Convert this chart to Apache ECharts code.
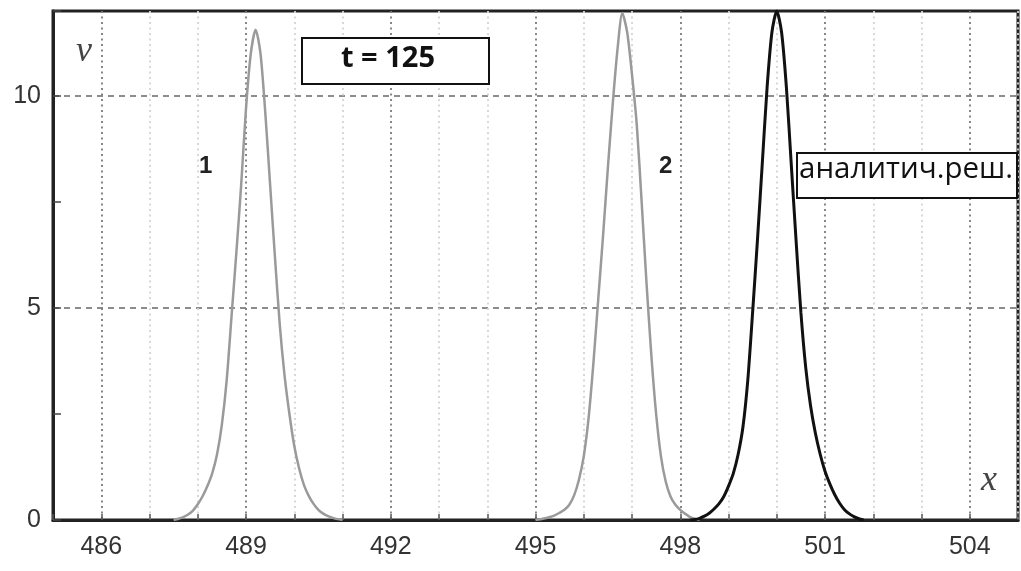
<!DOCTYPE html>
<html>
<head>
<meta charset="utf-8">
<script src="https://cdn.jsdelivr.net/npm/echarts@6/dist/echarts.min.js"></script>
<style>
  html, body { margin: 0; padding: 0; background: #fff; }
  #chart { width: 1021px; height: 571px; }
</style>
</head>
<body>
<div id="chart"></div>
<script>
// axis tick labels
var xTicks = [486, 489, 492, 495, 498, 501, 504];
var yTicks = [0, 5, 10];

// curve 1 (numerical)
var curve1X = [487.5, 487.6, 487.7, 487.8, 487.9, 488.0, 488.1, 488.2, 488.3, 488.4, 488.5, 488.6, 488.7, 488.8, 488.9, 489.0, 489.1, 489.2,
               489.3, 489.4, 489.5, 489.6, 489.7, 489.8, 489.9, 490.0, 490.1, 490.2, 490.3, 490.4, 490.5, 490.6, 490.7, 490.8, 490.9, 491.0];
var curve1V = [0, 0.03, 0.07, 0.13, 0.22, 0.37, 0.56, 0.8, 1.1, 1.55, 2.25, 3.3, 4.8, 6.3, 7.9, 9.7, 11.0, 11.56,
               11.0, 9.6, 7.9, 6.2, 4.6, 3.4, 2.5, 1.75, 1.22, 0.83, 0.57, 0.38, 0.24, 0.15, 0.09, 0.05, 0.02, 0];

// curve 2 (numerical)
var curve2X = [495.0, 495.1, 495.2, 495.3, 495.4, 495.5, 495.6, 495.7, 495.8, 495.9, 496.0, 496.1, 496.2, 496.3, 496.4, 496.5, 496.6, 496.7, 496.8,
               496.9, 497.0, 497.1, 497.2, 497.3, 497.4, 497.5, 497.6, 497.7, 497.8, 497.9, 498.0, 498.1, 498.2, 498.3, 498.4];
var curve2V = [0, 0.02, 0.04, 0.07, 0.11, 0.17, 0.24, 0.36, 0.58, 0.95, 1.5, 2.4, 3.7, 5.2, 6.7, 8.3, 9.8, 11.1, 11.95,
               11.5, 10.5, 9.3, 7.5, 5.6, 3.9, 2.5, 1.5, 0.9, 0.55, 0.36, 0.24, 0.15, 0.07, 0.03, 0];

// analytic solution
var exactX = [498.2, 498.3, 498.4, 498.5, 498.6, 498.7, 498.8, 498.9, 499.0, 499.1, 499.2, 499.3, 499.4, 499.5, 499.6, 499.7, 499.8, 499.9, 500.0,
              500.1, 500.2, 500.3, 500.4, 500.5, 500.6, 500.7, 500.8, 500.9, 501.0, 501.1, 501.2, 501.3, 501.4, 501.5, 501.6, 501.7, 501.8];
var exactV = [0, 0.01, 0.04, 0.09, 0.16, 0.26, 0.38, 0.55, 0.8, 1.1, 1.55, 2.2, 3.3, 4.9, 6.6, 8.4, 10.2, 11.5, 12.0,
              11.5, 10.2, 8.4, 6.6, 4.9, 3.6, 2.7, 2.05, 1.55, 1.15, 0.85, 0.6, 0.4, 0.25, 0.15, 0.08, 0.03, 0];

function pairs(xs, vs) {
  return xs.map(function (x, i) { return [x, vs[i]]; });
}

var chart = echarts.init(document.getElementById('chart'));

var labelFont = '"Liberation Sans Narrow", "Arial Narrow", "Liberation Sans", Arial, sans-serif';

var option = {
  animation: false,
  backgroundColor: '#fff',
  grid: {
    left: 53, right: 3, top: 11, bottom: 51,
    show: true, borderColor: '#222', borderWidth: 3
  },
  xAxis: {
    type: 'value',
    min: 485,
    max: 505,
    interval: 1,
    axisLine: { show: true, lineStyle: { color: '#222', width: 3 } },
    axisTick: { show: true, inside: true, length: 6, lineStyle: { color: '#555', width: 1.5 } },
    axisLabel: {
      color: '#333',
      fontSize: 25,
      fontFamily: labelFont,
      margin: 15,
      formatter: function (v) { return xTicks.indexOf(v) >= 0 ? String(v) : ''; }
    },
    splitLine: {
      show: true,
      lineStyle: { color: ['#d4d4d4', '#7a7a7a', '#d4d4d4'], type: [2, 3.5], width: 1.8 }
    }
  },
  yAxis: {
    type: 'value',
    min: 0,
    max: 12,
    interval: 2.5,
    axisLine: { show: true, lineStyle: { color: '#222', width: 3 } },
    axisTick: { show: true, inside: true, length: 8, lineStyle: { color: '#444', width: 1.5 } },
    axisLabel: {
      color: '#333',
      fontSize: 25,
      fontFamily: labelFont,
      margin: 12,
      formatter: function (v) { return yTicks.indexOf(v) >= 0 ? String(v) : ''; }
    },
    splitLine: {
      show: true,
      lineStyle: { color: ['#8c8c8c', 'rgba(0,0,0,0)'], type: [6, 5], width: 1.8 }
    }
  },
  series: [
    {
      name: '1', type: 'line', data: pairs(curve1X, curve1V),
      showSymbol: false, smooth: 0.25,
      lineStyle: { color: '#9a9a9a', width: 2.5 }
    },
    {
      name: '2', type: 'line', data: pairs(curve2X, curve2V),
      showSymbol: false, smooth: 0.25,
      lineStyle: { color: '#9a9a9a', width: 2.5 }
    },
    {
      name: 'аналитич.реш.', type: 'line', data: pairs(exactX, exactV),
      showSymbol: false, smooth: 0.25,
      lineStyle: { color: '#111', width: 3 }
    }
  ],
  graphic: [
    { type: 'text', left: 76, top: 34, style: { text: 'v', font: 'italic 36px "Liberation Serif", serif', fill: '#444' } },
    { type: 'text', left: 981, top: 463, style: { text: 'x', font: 'italic 36px "Liberation Serif", serif', fill: '#444' } },
    { type: 'text', left: 199, top: 154, style: { text: '1', font: 'bold 24px "Liberation Sans", Arial, sans-serif', fill: '#222' } },
    { type: 'text', left: 659, top: 154, style: { text: '2', font: 'bold 24px "Liberation Sans", Arial, sans-serif', fill: '#222' } },
    {
      type: 'rect', left: 301, top: 37, z: 10,
      shape: { width: 187, height: 46 },
      style: { fill: '#fff', stroke: '#111', lineWidth: 2 }
    },
    {
      type: 'text', left: 341, top: 44, z: 11,
      style: { text: 't = 125', font: 'bold 29px "Open Sans", "Noto Sans", sans-serif', fill: '#111' }
    },
    {
      type: 'rect', left: 796, top: 152, z: 10,
      shape: { width: 220, height: 45 },
      style: { fill: '#fff', stroke: '#111', lineWidth: 2 }
    },
    {
      type: 'text', left: 799, top: 155, z: 11,
      style: { text: 'аналитич.реш.', font: '29.5px "Open Sans", "Noto Sans", sans-serif', fill: '#111' }
    }
  ]
};

chart.setOption(option);
</script>
</body>
</html>
